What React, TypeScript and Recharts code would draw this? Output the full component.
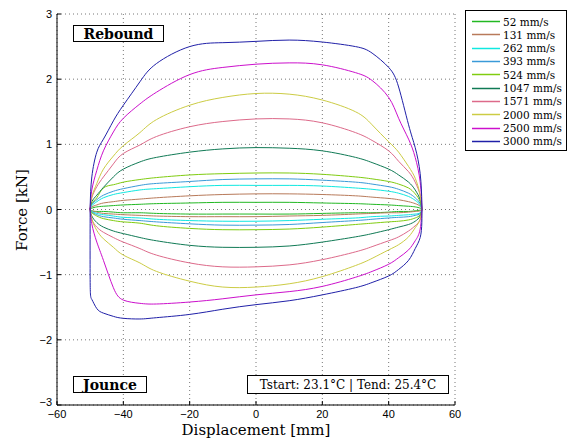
import React from "react";
import { LineChart, Line, XAxis, YAxis, CartesianGrid } from "recharts";

const X_UP = [-50, -49.5, -48, -46, -43, -40, -35, -30, -20, -10, 0, 10, 20, 30, 35, 40, 43, 46, 48, 49.5, 50];
const X_DN = [50, 49.5, 48, 46, 43, 40, 35, 30, 20, 10, 0, -10, -20, -30, -35, -40, -43, -46, -48, -49.5, -50];

const SERIES_NAMES = ["52 mm/s", "131 mm/s", "262 mm/s", "393 mm/s", "524 mm/s", "1047 mm/s", "1571 mm/s", "2000 mm/s", "2500 mm/s", "3000 mm/s"];
const SERIES_COLORS = ["#22b822", "#b87a5a", "#10e8e0", "#3a9ad8", "#80cc10", "#107a55", "#dd6a8a", "#cccc44", "#cc10cc", "#2020a8"];

const UP_52 = [0, 0.02, 0.04, 0.05, 0.06, 0.07, 0.08, 0.09, 0.1, 0.11, 0.11, 0.11, 0.1, 0.09, 0.08, 0.07, 0.06, 0.05, 0.04, 0.02, 0];
const DN_52 = [0, -0.01, -0.02, -0.03, -0.03, -0.04, -0.05, -0.05, -0.06, -0.07, -0.07, -0.07, -0.07, -0.06, -0.05, -0.05, -0.04, -0.03, -0.03, -0.02, 0];
const UP_131 = [0, 0.04, 0.07, 0.1, 0.12, 0.14, 0.16, 0.18, 0.21, 0.23, 0.24, 0.24, 0.23, 0.21, 0.19, 0.17, 0.15, 0.12, 0.09, 0.05, 0];
const DN_131 = [0, -0.02, -0.03, -0.04, -0.05, -0.05, -0.06, -0.07, -0.09, -0.1, -0.11, -0.11, -0.11, -0.1, -0.09, -0.08, -0.07, -0.06, -0.04, -0.02, 0];
const UP_262 = [0, 0.06, 0.12, 0.18, 0.23, 0.26, 0.3, 0.32, 0.35, 0.37, 0.37, 0.37, 0.36, 0.33, 0.31, 0.28, 0.25, 0.2, 0.14, 0.07, 0];
const DN_262 = [0, -0.05, -0.07, -0.08, -0.09, -0.1, -0.11, -0.13, -0.15, -0.17, -0.18, -0.18, -0.17, -0.15, -0.13, -0.12, -0.1, -0.08, -0.06, -0.03, 0];
const UP_393 = [0, 0.08, 0.15, 0.22, 0.28, 0.32, 0.37, 0.4, 0.43, 0.46, 0.47, 0.47, 0.45, 0.42, 0.39, 0.35, 0.31, 0.25, 0.18, 0.09, 0];
const DN_393 = [0, -0.06, -0.09, -0.11, -0.12, -0.13, -0.15, -0.17, -0.2, -0.23, -0.24, -0.24, -0.22, -0.19, -0.17, -0.15, -0.13, -0.11, -0.08, -0.04, 0];
const UP_524 = [0, 0.1, 0.18, 0.33, 0.38, 0.42, 0.46, 0.49, 0.53, 0.55, 0.56, 0.56, 0.54, 0.5, 0.47, 0.43, 0.39, 0.33, 0.24, 0.12, 0];
const DN_524 = [0, -0.08, -0.13, -0.16, -0.18, -0.19, -0.21, -0.23, -0.27, -0.3, -0.31, -0.31, -0.29, -0.25, -0.21, -0.19, -0.17, -0.14, -0.1, -0.05, 0];
const UP_1047 = [0, 0.12, 0.22, 0.34, 0.5, 0.62, 0.73, 0.8, 0.88, 0.93, 0.95, 0.94, 0.9, 0.8, 0.72, 0.62, 0.53, 0.42, 0.3, 0.15, 0.02];
const DN_1047 = [0, -0.1, -0.18, -0.23, -0.27, -0.31, -0.37, -0.42, -0.5, -0.56, -0.58, -0.58, -0.55, -0.48, -0.43, -0.37, -0.33, -0.27, -0.2, -0.1, 0];
const UP_1571 = [0, 0.18, 0.35, 0.5, 0.7, 0.86, 0.99, 1.12, 1.27, 1.35, 1.39, 1.39, 1.33, 1.18, 1.06, 0.9, 0.74, 0.58, 0.42, 0.22, 0.05];
const DN_1571 = [0, -0.15, -0.25, -0.33, -0.42, -0.48, -0.57, -0.65, -0.77, -0.85, -0.88, -0.88, -0.82, -0.7, -0.6, -0.5, -0.43, -0.35, -0.27, -0.15, 0];
const UP_2000 = [0, 0.2, 0.4, 0.62, 0.82, 0.98, 1.18, 1.38, 1.6, 1.72, 1.78, 1.77, 1.68, 1.5, 1.3, 1.04, 0.88, 0.66, 0.48, 0.22, 0];
const DN_2000 = [0, -0.15, -0.28, -0.42, -0.54, -0.62, -0.75, -0.86, -1.03, -1.14, -1.19, -1.19, -1.1, -0.95, -0.82, -0.7, -0.58, -0.45, -0.32, -0.15, 0];
const UP_2500 = [0, 0.3, 0.6, 0.9, 1.19, 1.4, 1.62, 1.8, 2.07, 2.18, 2.23, 2.25, 2.22, 2.1, 1.98, 1.72, 1.4, 1.08, 0.8, 0.42, 0.05];
const DN_2500 = [0, -0.3, -0.48, -0.62, -0.74, -0.84, -0.95, -1.04, -1.18, -1.26, -1.31, -1.37, -1.42, -1.45, -1.44, -1.39, -1.2, -0.78, -0.5, -0.22, 0];
const UP_3000 = [0.05, 0.5, 0.88, 1.08, 1.36, 1.6, 1.96, 2.24, 2.5, 2.56, 2.58, 2.6, 2.57, 2.5, 2.4, 2.18, 1.88, 1.3, 0.95, 0.55, 0.1];
const DN_3000 = [-0.2, -0.43, -0.6, -0.78, -0.92, -1.02, -1.12, -1.2, -1.31, -1.4, -1.46, -1.53, -1.61, -1.66, -1.68, -1.67, -1.64, -1.59, -1.52, -1.38, -1.12];

const UPS = [UP_52, UP_131, UP_262, UP_393, UP_524, UP_1047, UP_1571, UP_2000, UP_2500, UP_3000];
const DNS = [DN_52, DN_131, DN_262, DN_393, DN_524, DN_1047, DN_1571, DN_2000, DN_2500, DN_3000];

const X_TICKS = [-60, -40, -20, 0, 20, 40, 60];
const Y_TICKS = [-3, -2, -1, 0, 1, 2, 3];

const loops = UPS.map((up, i) => {
  const pts = X_UP.map((x, k) => ({ x, y: up[k] })).concat(
    X_DN.map((x, k) => ({ x, y: DNS[i][k] }))
  );
  pts.push(pts[0]);
  return pts;
});

const fmt = (v: number) => (v < 0 ? "\u2212" + Math.abs(v) : String(v));
const SANS = "'Liberation Sans', Arial, sans-serif";
const SERIF = "'DejaVu Serif', serif";

const BottomTick = (p: any) => (
  <g>
    <line x1={p.x} x2={p.x} y1={p.y} y2={p.y - 4} stroke="#000" />
    <text x={p.x} y={p.y + 13} textAnchor="middle" fontFamily={SANS} fontSize={11} fill="#000">
      {fmt(p.payload.value)}
    </text>
  </g>
);
const TopTick = (p: any) => (
  <line x1={p.x} x2={p.x} y1={p.y} y2={p.y + 4} stroke="#000" />
);
const LeftTick = (p: any) => (
  <g>
    <line x1={p.x} x2={p.x + 4} y1={p.y} y2={p.y} stroke="#000" />
    <text x={p.x - 5} y={p.y + (p.payload.value === -3 ? 1 : 4)} textAnchor="end" fontFamily={SANS} fontSize={11} fill="#000">
      {fmt(p.payload.value)}
    </text>
  </g>
);
const RightTick = (p: any) => (
  <line x1={p.x} x2={p.x - 4} y1={p.y} y2={p.y} stroke="#000" />
);

const boxStyle: React.CSSProperties = {
  position: "absolute",
  border: "1px solid #000",
  background: "#fff",
  fontFamily: SERIF,
  color: "#000",
  boxSizing: "border-box",
  display: "flex",
  alignItems: "center",
  justifyContent: "center",
  whiteSpace: "nowrap",
};

export default function App() {
  return (
    <div style={{ position: "absolute", left: 0, top: 0, width: 568, height: 441, background: "#fff", overflow: "hidden" }}>
      <LineChart
        width={568}
        height={441}
        margin={{ top: 14, right: 113, bottom: 0, left: 0 }}
      >
        <CartesianGrid xAxisId="b" yAxisId="l" stroke="#777" strokeDasharray="1 3" />
        <XAxis
          xAxisId="b"
          dataKey="x"
          type="number"
          domain={[-60, 60]}
          ticks={X_TICKS}
          allowDataOverflow
          height={36}
          tickSize={0}
          tickMargin={0}
          tickLine={false}
          axisLine={{ stroke: "#000" }}
          tick={<BottomTick />}
          interval={0}
        />
        <XAxis
          xAxisId="t"
          orientation="top"
          dataKey="x"
          type="number"
          domain={[-60, 60]}
          ticks={X_TICKS}
          allowDataOverflow
          height={0}
          tickSize={0}
          tickMargin={0}
          tickLine={false}
          axisLine={{ stroke: "#000" }}
          tick={<TopTick />}
          interval={0}
        />
        <YAxis
          yAxisId="l"
          type="number"
          domain={[-3, 3]}
          ticks={Y_TICKS}
          allowDataOverflow
          width={57}
          tickSize={0}
          tickMargin={0}
          tickLine={false}
          axisLine={{ stroke: "#000" }}
          tick={<LeftTick />}
          interval={0}
        />
        <YAxis
          yAxisId="r"
          orientation="right"
          type="number"
          domain={[-3, 3]}
          ticks={Y_TICKS}
          allowDataOverflow
          width={0}
          tickSize={0}
          tickMargin={0}
          tickLine={false}
          axisLine={{ stroke: "#000" }}
          tick={<RightTick />}
          interval={0}
        />
        {loops.map((pts, i) => (
          <Line
            key={SERIES_NAMES[i]}
            xAxisId="b"
            yAxisId="l"
            data={pts}
            dataKey="y"
            type="natural"
            stroke={SERIES_COLORS[i]}
            strokeWidth={1}
            dot={false}
            activeDot={false}
            isAnimationActive={false}
          />
        ))}
      </LineChart>

      <div style={{ position: "absolute", left: 0, top: 421, width: 512, textAlign: "center", fontFamily: SERIF, fontSize: 15, lineHeight: "18px" }}>
        Displacement [mm]
      </div>
      <div
        style={{
          position: "absolute",
          left: 22,
          top: 210,
          transform: "translate(-50%, -50%) rotate(-90deg)",
          fontFamily: SERIF,
          fontSize: 15,
          whiteSpace: "nowrap",
        }}
      >
        Force [kN]
      </div>

      <div style={{ ...boxStyle, left: 73, top: 25, width: 91, height: 17, fontWeight: "bold", fontSize: 14 }}>Rebound</div>
      <div style={{ ...boxStyle, left: 73, top: 376, width: 74, height: 17, fontWeight: "bold", fontSize: 14 }}>Jounce</div>
      <div style={{ ...boxStyle, left: 247, top: 375, width: 202, height: 19, fontSize: 12 }}>
        Tstart: 23.1°C | Tend: 25.4°C
      </div>

      <div style={{ position: "absolute", left: 465, top: 10, width: 102, height: 141, border: "1px solid #000", boxSizing: "border-box", background: "#fff" }}>
        {SERIES_NAMES.map((n, i) => (
          <div key={n} style={{ position: "absolute", left: 0, top: 4 + i * 13.33, height: 13, display: "flex", alignItems: "center", whiteSpace: "nowrap" }}>
            <svg width={34} height={13} style={{ display: "block", flex: "none" }}>
              <line x1={6} x2={34} y1={6.5} y2={6.5} stroke={SERIES_COLORS[i]} strokeWidth={1.5} />
            </svg>
            <span style={{ marginLeft: 3, fontFamily: SERIF, fontSize: 10.5, color: "#000" }}>{n}</span>
          </div>
        ))}
      </div>
    </div>
  );
}
